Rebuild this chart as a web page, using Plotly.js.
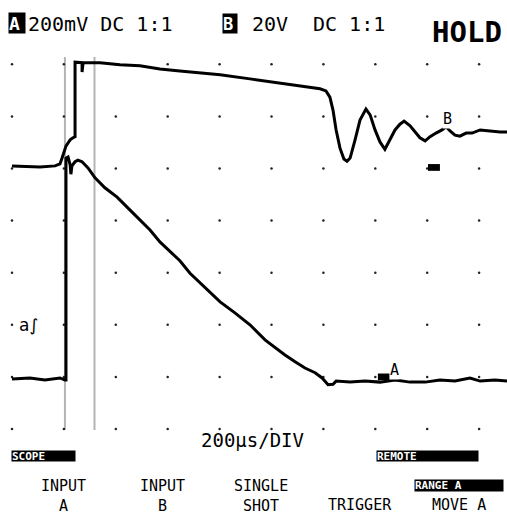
<!DOCTYPE html>
<html><head><meta charset="utf-8">
<script src="https://cdn.plot.ly/plotly-3.0.1.min.js"></script>
<style>html,body{margin:0;padding:0;background:#fff}#chart{width:507px;height:513px}</style>
</head><body><div id="chart"></div>
<script>
// time in microseconds, amplitude in screen divisions
const traceB_us = [0,108,166,185,193,200,208,216,224,235,243,243,262,270,270,274,339,416,493,570,647,725,802,917,1033,1110,1187,1210,1225,1237,1249,1264,1279,1291,1303,1322,1341,1364,1380,1399,1418,1437,1457,1476,1495,1511,1534,1553,1572,1592,1611,1634,1657,1673,1688,1707,1726,1750,1773,1804,1842,1881,1908];
const traceB_div = [5.05,5.03,5.05,5.09,5.20,5.32,5.43,5.49,5.55,5.59,5.61,7.04,7.04,7.03,6.85,7.03,7.03,6.99,6.97,6.91,6.87,6.83,6.80,6.72,6.64,6.58,6.53,6.49,6.37,6.12,5.74,5.39,5.18,5.14,5.20,5.55,5.93,6.14,6.03,5.74,5.51,5.37,5.55,5.74,5.85,5.91,5.82,5.70,5.59,5.53,5.61,5.68,5.74,5.80,5.72,5.64,5.62,5.68,5.68,5.74,5.72,5.70,5.70];
const traceA_us = [0,69,127,185,204,208,208,216,224,227,231,243,254,270,293,320,358,405,455,493,532,570,609,647,686,725,763,802,859,917,975,1014,1052,1091,1129,1168,1195,1218,1237,1249,1303,1360,1418,1476,1534,1592,1649,1707,1765,1804,1861,1908];
const traceA_div = [0.96,0.98,0.94,0.98,0.94,0.94,5.20,5.22,5.07,4.89,5.05,5.13,5.16,5.13,5.01,4.82,4.63,4.45,4.20,4.01,3.82,3.59,3.40,3.23,2.99,2.80,2.61,2.44,2.23,2.00,1.71,1.56,1.42,1.29,1.17,1.08,0.98,0.85,0.86,0.92,0.90,0.92,0.90,0.94,0.90,0.90,0.94,0.92,0.98,0.92,0.94,0.92];
const gridX_us = [0,200,400,600,800,1000,1200,1400,1600,1800];
const gridY_div = [0,1,2,3,4,5,6,7];
const cursors_us = [204,318];
const groundLabels = ["A","B"];
const groundX_us = [1433,1626];
const groundY_div = [1.00,5.02];
const labelX_us = [1475,1678];
const labelY_div = [1.13,5.95];

const W = 507, H = 513;
const P = (px, py) => ({x: px / W, y: 1 - py / H});
const mono = "DejaVu Sans Mono, monospace";

const gx = [], gy = [];
gridX_us.forEach(x => gridY_div.forEach(y => { gx.push(x); gy.push(y); }));

const data = [
  {x: gx, y: gy, mode: 'markers', type: 'scatter', marker: {size: 2.5, color: '#222'}, hoverinfo: 'skip'},
  {x: traceB_us, y: traceB_div, mode: 'lines', type: 'scatter', line: {color: '#000', width: 3}, name: 'B'},
  {x: traceA_us, y: traceA_div, mode: 'lines', type: 'scatter', line: {color: '#000', width: 3}, name: 'A'}
];

const shapes = [];
cursors_us.forEach(c => shapes.push({type: 'line', xref: 'x', yref: 'paper', x0: c, x1: c,
  y0: 1 - 430 / H, y1: 1 - 57 / H, line: {color: '#b4b4b4', width: 2}, layer: 'below'}));
groundX_us.forEach((x, i) => shapes.push({type: 'rect', xref: 'x', yref: 'y',
  x0: x - 23, x1: x + 23, y0: groundY_div[i] - 0.065, y1: groundY_div[i] + 0.065,
  fillcolor: '#000', line: {width: 0}}));

function txt(s, px, py, size, opts) {
  const p = P(px, py);
  return Object.assign({text: s, xref: 'paper', yref: 'paper', x: p.x, y: p.y,
    showarrow: false, xanchor: 'center', yanchor: 'middle',
    font: {family: mono, size: size, color: '#000'}}, opts || {});
}
function box(s, x0, y0, x1, y1, size) {
  return txt(s, (x0 + x1) / 2, (y0 + y1) / 2, size, {bgcolor: '#000', width: x1 - x0, height: y1 - y0,
    borderpad: 0, align: 'left', font: {family: mono, size: size, color: '#fff', weight: 'bold'}});
}
function key(s, px, py) {
  return txt(s, px, py, 15, {borderpad: 0, align: 'center'});
}

const annotations = [
  box('A', 9, 13, 25, 33, 18),
  txt('200mV DC 1:1', 100, 24, 20),
  box('B', 223, 14, 237, 33, 17),
  txt('20V', 270, 24, 20),
  txt('DC 1:1', 349, 24, 20),
  txt('HOLD', 467, 32, 29, {font: {family: mono, size: 29, color: '#000', weight: 'bold'}}),
  txt('a\u222B', 28, 325, 17, {font: {family: 'DejaVu Sans', size: 17, color: '#000'}}),
  txt('200\u00B5s/DIV', 252, 440, 19),
  box('SCOPE', 12, 451, 75, 461, 11),
  box('REMOTE', 377, 451, 478, 461, 11),
  box('RANGE A', 415, 480, 503, 491, 11),
  key('INPUT<br>A', 63, 496),
  key('INPUT<br>B', 162, 496),
  key('SINGLE<br>SHOT', 261, 496),
  key('TRIGGER', 360, 505),
  key('MOVE A', 459, 505)
];
groundLabels.forEach((l, i) => annotations.push({text: l, xref: 'x', yref: 'y', x: labelX_us[i], y: labelY_div[i],
  showarrow: false, font: {family: mono, size: 15, color: '#000'}, bgcolor: '#fff', borderpad: 0}));

const layout = {
  width: W, height: H, margin: {l: 0, r: 0, t: 0, b: 0},
  paper_bgcolor: '#fff', plot_bgcolor: '#fff', showlegend: false,
  xaxis: {range: [-46.2, 1907.5], visible: false, fixedrange: true},
  yaxis: {range: [-1.612, 8.234], visible: false, fixedrange: true},
  shapes: shapes, annotations: annotations
};
Plotly.newPlot('chart', data, layout, {staticPlot: true, displayModeBar: false});
</script></body></html>
